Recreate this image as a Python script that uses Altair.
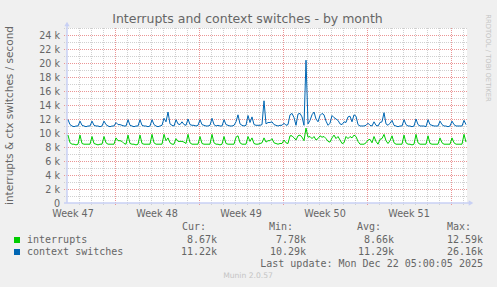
import altair as alt
import pandas as pd

# ---- data (values in thousands per second), one sample every 4 hours ----
interrupts = [
    9.7, 8.6, 8.4, 8.4, 8.3, 8.4,
    9.7, 8.5, 8.4, 8.4, 8.4, 8.4,
    9.5, 8.5, 8.4, 8.3, 8.4, 8.4,
    9.5, 8.6, 8.4, 8.4, 8.4, 8.4,
    9.3, 8.9, 8.9, 8.8, 8.5, 8.4,
    9.7, 8.5, 8.4, 8.4, 8.3, 8.4,
    9.7, 8.5, 8.4, 8.4, 8.4, 8.4,
    9.8, 8.6, 8.4, 8.4, 8.4, 8.4,
    9.8, 8.9, 9.3, 8.6, 8.4, 8.4,
    9.2, 8.8, 8.8, 8.8, 8.7, 8.5,
    9.8, 8.6, 8.4, 8.4, 8.4, 8.4,
    9.5, 8.5, 8.4, 8.4, 8.4, 8.4,
    9.8, 8.6, 8.4, 8.4, 8.3, 8.4,
    9.5, 8.5, 8.4, 8.4, 8.4, 8.4,
    9.4, 9.6, 8.6, 8.4, 8.4, 8.4,
    9.5, 8.8, 9.3, 8.5, 8.4, 8.4,
    8.5, 8.6, 9.3, 8.7, 8.9, 8.9,
    9.2, 8.6, 8.5, 8.4, 8.5, 8.5,
    9.0, 8.6, 8.5, 9.6, 9.6, 9.3,
    9.0, 9.6, 9.7, 9.4, 8.9, 10.7,
    9.4, 9.5, 9.2, 9.5, 9.0, 9.2,
    9.6, 9.4, 9.5, 9.2, 8.8, 8.7,
    9.3, 9.7, 9.2, 9.5, 9.0, 8.5,
    8.6, 9.5, 9.2, 9.5, 9.3, 9.7,
    9.5, 8.8, 8.4, 8.4, 8.4, 8.6,
    9.0, 9.1, 8.6, 9.5, 8.8, 8.4,
    9.1, 9.2, 9.8, 8.9, 8.5, 8.9,
    9.6, 8.6, 8.4, 8.4, 8.4, 8.4,
    9.7, 8.6, 8.4, 8.4, 8.3, 8.4,
    9.8, 8.6, 8.4, 8.4, 8.4, 8.4,
    9.6, 8.5, 8.4, 8.4, 8.4, 8.4,
    9.3, 8.6, 8.4, 8.4, 8.4, 8.4,
    9.3, 8.6, 8.4, 8.4, 8.4, 8.4,
    9.8, 8.7,
]
context_switches = [
    11.9, 11.2, 11.0, 10.9, 11.0, 11.0,
    11.7, 11.1, 11.0, 10.9, 11.0, 11.0,
    11.7, 11.1, 11.0, 11.0, 10.9, 11.0,
    11.7, 11.2, 11.0, 10.9, 11.0, 11.0,
    11.5, 11.2, 11.2, 11.1, 11.0, 11.0,
    11.9, 11.1, 11.0, 10.9, 11.0, 11.0,
    11.9, 11.1, 11.0, 11.0, 10.9, 11.0,
    11.9, 11.2, 11.0, 10.9, 11.0, 11.1,
    12.1, 11.6, 13.0, 11.3, 11.1, 11.0,
    11.9, 11.3, 11.2, 11.6, 11.2, 11.1,
    12.0, 11.2, 11.1, 11.1, 11.0, 11.1,
    11.9, 11.2, 11.1, 11.0, 11.0, 11.1,
    12.1, 11.2, 11.0, 11.1, 11.0, 11.0,
    11.9, 11.2, 11.1, 11.0, 11.0, 11.1,
    11.6, 12.6, 11.3, 11.1, 11.0, 11.1,
    12.5, 11.5, 12.3, 11.2, 11.1, 11.1,
    11.1, 11.2, 14.6, 11.3, 11.5, 11.5,
    11.6, 11.2, 11.1, 11.0, 11.1, 11.1,
    11.4, 11.1, 11.2, 12.6, 12.8, 12.2,
    11.1, 12.7, 12.8, 12.3, 11.1, 20.4,
    11.3, 11.8, 12.6, 13.0, 12.0, 11.6,
    12.5, 12.8, 12.6, 11.7, 11.1, 11.4,
    12.5, 12.2, 12.0, 11.8, 11.3, 11.2,
    11.6, 11.5, 12.3, 12.4, 11.6, 12.6,
    12.4, 11.2, 11.0, 11.0, 11.0, 11.1,
    11.4, 11.1, 11.0, 11.6, 11.1, 11.0,
    11.5, 11.6, 12.9, 11.3, 11.1, 11.4,
    11.8, 11.1, 11.0, 10.9, 11.0, 11.0,
    11.9, 11.2, 11.0, 11.0, 10.9, 11.0,
    12.0, 11.2, 11.0, 11.0, 11.0, 10.9,
    11.9, 11.2, 11.1, 11.0, 11.0, 11.0,
    11.7, 11.2, 11.0, 11.0, 10.9, 11.0,
    11.7, 11.2, 11.0, 11.0, 11.0, 11.0,
    11.8, 11.2,
]
series_names = ["interrupts", "context switches"]
series_colors = ["#00CC00", "#0066B3"]
cur_k = [8.67, 11.22]
min_k = [7.78, 10.29]
avg_k = [8.66, 11.29]
max_k = [12.59, 26.16]
week_labels = ["Week 47", "Week 48", "Week 49", "Week 50", "Week 51"]
y_tick_k = [0, 2, 4, 6, 8, 10, 12, 14, 16, 18, 20, 22, 24]
title_text = "Interrupts and context switches - by month"
y_title = "interrupts & ctx switches / second"
last_update = "Last update: Mon Dec 22 05:00:05 2025"
munin_version = "Munin 2.0.57"
watermark = "RRDTOOL / TOBI OETIKER"

# ---- time layout (hours from left edge of plot) ----
STEP_H = 4
OFFSET_H = 2
SPAN_H = 800
FIRST_WEEK_H = 96  # first Monday boundary

rows = []
for name, vals in zip(series_names, [interrupts, context_switches]):
    for i, v in enumerate(vals):
        rows.append({"h": OFFSET_H + STEP_H * i, "v": v * 1000, "s": name})
df = pd.DataFrame(rows)

W, H = 400, 175
FONT = "DejaVu Sans"
MONO = "DejaVu Sans Mono"
TXT = "#666666"
GRID = "#D0D0D0"
MGRID = "#EB9595"
AXIS = "#C8D0F4"

xs = alt.Scale(domain=[0, SPAN_H], nice=False, zero=False)
ys = alt.Scale(domain=[0, 25000], nice=False)

week_lines = [FIRST_WEEK_H + 168 * k for k in range(5)]
day_lines = [24 * d for d in range(1, 34) if 24 * d not in week_lines]
h_minor = [1000 * k for k in range(1, 26, 2)]
h_major = [1000 * k for k in y_tick_k if k > 0]
week_centers = [FIRST_WEEK_H - 84 + 168 * k for k in range(len(week_labels))]


def vrules(vals, color):
    return alt.Chart(pd.DataFrame({"h": vals})).mark_rule(
        color=color, strokeWidth=1, strokeDash=[1, 1], xOffset=0.5
    ).encode(x=alt.X("h:Q", scale=xs, axis=None), y=alt.value(0), y2=alt.value(H + 2))


def hrules(vals, color):
    return alt.Chart(pd.DataFrame({"v": vals})).mark_rule(
        color=color, strokeWidth=1, strokeDash=[1, 1], yOffset=0.5
    ).encode(y=alt.Y("v:Q", scale=ys, axis=None), x=alt.value(-3), x2=alt.value(W))


layers = [
    hrules(h_minor, GRID),
    vrules(day_lines, GRID),
    hrules(h_major, MGRID),
    vrules(week_lines, MGRID),
]

# axis lines and arrows
axis_df = pd.DataFrame({"a": [0]})
layers.append(alt.Chart(axis_df).mark_rule(color=AXIS, strokeWidth=1.5).encode(
    x=alt.value(0), y=alt.value(-4), y2=alt.value(H)))
layers.append(alt.Chart(axis_df).mark_rule(color=AXIS, strokeWidth=1.5).encode(
    x=alt.value(-3), x2=alt.value(W + 4), y=alt.value(H)))
layers.append(alt.Chart(axis_df).mark_point(shape="triangle-up", filled=True, size=28,
                                            color=AXIS, opacity=1).encode(
    x=alt.value(0), y=alt.value(-4)))
layers.append(alt.Chart(axis_df).mark_point(shape="triangle-right", filled=True, size=28,
                                            color=AXIS, opacity=1).encode(
    x=alt.value(W + 4), y=alt.value(H)))

# axis labels drawn through the scales
ylab_df = pd.DataFrame({"v": [k * 1000 for k in y_tick_k],
                        "t": ["0" if k == 0 else "%d k" % k for k in y_tick_k]})
layers.append(alt.Chart(ylab_df).mark_text(
    font=FONT, fontSize=9.6, color=TXT, align="right", baseline="alphabetic", dy=3.5
).encode(y=alt.Y("v:Q", scale=ys, axis=None), x=alt.value(-7), text="t:N"))
xlab_df = pd.DataFrame({"h": week_centers, "t": week_labels})
layers.append(alt.Chart(xlab_df).mark_text(
    font=FONT, fontSize=9.6, color=TXT, align="center", baseline="alphabetic"
).encode(x=alt.X("h:Q", scale=xs, axis=None), y=alt.value(H + 13.5), text="t:N"))

lines = alt.Chart(df).mark_line(strokeWidth=1, interpolate="linear").encode(
    x=alt.X("h:Q", scale=xs, axis=None),
    y=alt.Y("v:Q", scale=ys, axis=None),
    color=alt.Color("s:N", scale=alt.Scale(domain=series_names, range=series_colors), legend=None),
    detail="s:N",
)
layers.append(lines)


def text(t, x, y, size=10, font=FONT, color=TXT, align="left", baseline="middle", angle=0):
    kw = dict(font=font, fontSize=size, color=color, align=align, baseline=baseline)
    if angle:
        kw["angle"] = angle
    return alt.Chart(pd.DataFrame({"t": [t]})).mark_text(**kw).encode(
        text="t:N", x=alt.value(x), y=alt.value(y))


OX, OY = 67, 28  # plot origin on the page
layers.append(text(title_text, 247.5 - OX, 23 - OY, size=12.5, align="center", baseline="alphabetic"))
layers.append(text(y_title, 10 - OX, H / 2, size=10.5, align="center", angle=270))
layers.append(text(watermark, 488 - OX, 58 - OY, size=6.8, color="#C4C4C4", angle=90, align="center"))

# legend
for hx, lab in zip([182, 269, 357, 447], ["Cur:", "Min:", "Avg:", "Max:"]):
    layers.append(text(lab, hx - OX, 227 - OY, font=MONO))
row_y = [240, 252]
for r, (name, col) in enumerate(zip(series_names, series_colors)):
    sq = pd.DataFrame({"a": [0]})
    layers.append(alt.Chart(sq).mark_rect(color=col).encode(
        x=alt.value(14 - OX), x2=alt.value(20 - OX),
        y=alt.value(row_y[r] - 3 - OY), y2=alt.value(row_y[r] + 3 - OY)))
    layers.append(text(name, 27 - OX, row_y[r] - OY, font=MONO))
    for ex, arr in zip([217, 306, 394, 483], [cur_k, min_k, avg_k, max_k]):
        layers.append(text("%.2fk" % arr[r], ex - OX, row_y[r] - OY, font=MONO, align="right"))
layers.append(text(last_update, 483 - OX, 264 - OY, font=MONO, align="right"))
layers.append(text(munin_version, 248 - OX, 276 - OY, size=7.6, color="#C4C4C4", align="center"))

chart = alt.layer(*layers).properties(
    width=W, height=H,
    padding={"left": OX, "top": OY, "right": 497 - OX - W, "bottom": 287 - OY - H},
    autosize=alt.AutoSizeParams(type="none"),
    background="#F0F0F0",
).configure_view(stroke=None, fill="white")

chart.save("out.html", embed_options={"renderer": "svg", "actions": False})
